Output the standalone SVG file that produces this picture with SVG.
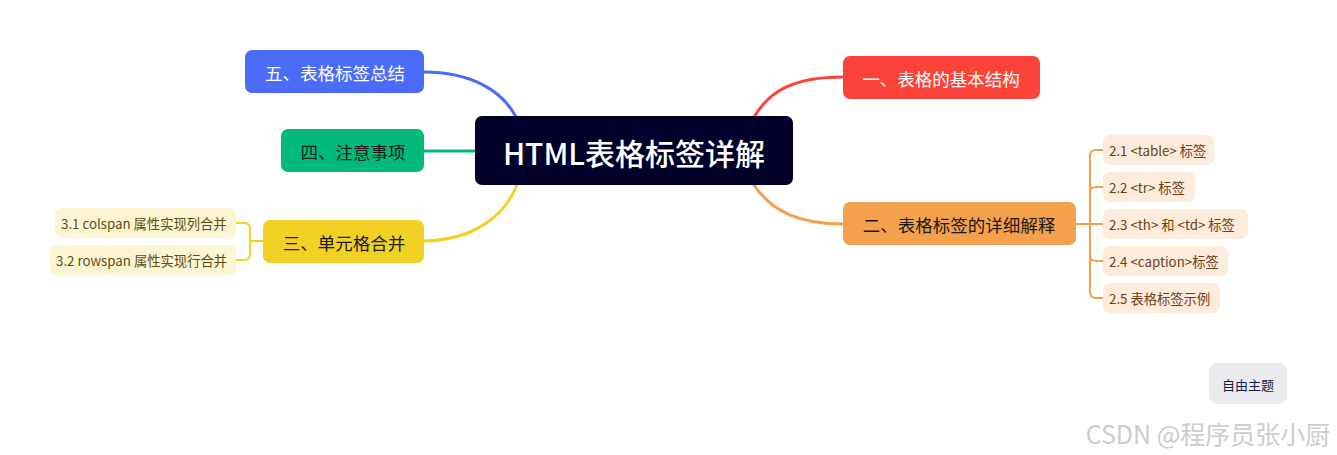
<svg xmlns="http://www.w3.org/2000/svg" width="1337" height="455" viewBox="0 0 1337 455">
<style>
text{font-family:"Noto Sans CJK SC","Noto Sans",sans-serif;text-anchor:middle;dominant-baseline:central}
.l1{font-size:17.5px}
.l2{font-size:13.3px;text-anchor:start}
.c{fill:none;stroke-width:3;stroke-linecap:round}
.c2{fill:none;stroke-width:2}
</style>
<rect width="1337" height="455" fill="#ffffff"/>
<g id="connectors">
<path class="c" stroke="#4a6cf7" d="M424,72 C470,72 502,90 516,117"/>
<path class="c" stroke="#00b97a" d="M424,151 L476,151"/>
<path class="c" stroke="#f2d024" d="M424,241 C475,240 505,215 517,185"/>
<path class="c" stroke="#fb433a" d="M843,77 C795,77 770,90 754,117"/>
<path class="c" stroke="#f5a04c" d="M754,185 C772,212 800,224 843,224"/>
<path class="c2" stroke="#f5a04c" d="M1076,224 H1103 M1103,150 H1096 Q1090,150 1090,156 V292 Q1090,298 1096,298 H1103 M1103,187 H1096 Q1090,187 1090,193 M1103,261 H1096 Q1090,261 1090,255"/>
<path class="c2" stroke="#f2d024" d="M263,241 H250 M236,223 H244 Q250,223 250,229 V254 Q250,260 244,260 H236"/>
</g>
<g id="root">
<rect x="475" y="116" width="318" height="69" rx="7" fill="#00002a"/>
<text x="634" y="152" fill="#ffffff" font-size="30" font-weight="500">HTML表格标签详解</text>
</g>
<g id="n5">
<rect x="245" y="50" width="179" height="43" rx="7" fill="#4a6cf7"/>
<text class="l1" x="335" y="72" fill="#ffffff">五、表格标签总结</text>
</g>
<g id="n4">
<rect x="281" y="129" width="143" height="43" rx="7" fill="#00b97a"/>
<text class="l1" x="353" y="151" fill="#1a1a1a">四、注意事项</text>
</g>
<g id="n3">
<rect x="263" y="220" width="161" height="43" rx="7" fill="#f2d024"/>
<text class="l1" x="344" y="242" fill="#1a1a1a">三、单元格合并</text>
</g>
<g id="n31">
<rect x="55" y="208" width="181" height="30" rx="7" fill="#fcf5d2"/>
<text class="l2" x="61" y="223" fill="#5c4d14">3.1 colspan 属性实现列合并</text>
</g>
<g id="n32">
<rect x="50" y="245" width="186" height="30" rx="7" fill="#fcf5d2"/>
<text class="l2" x="56" y="260" fill="#5c4d14">3.2 rowspan 属性实现行合并</text>
</g>
<g id="n1">
<rect x="843" y="56" width="197" height="43" rx="7" fill="#fb433a"/>
<text class="l1" x="941" y="78" fill="#ffffff">一、表格的基本结构</text>
</g>
<g id="n2">
<rect x="843" y="202" width="233" height="43" rx="7" fill="#f5a04c"/>
<text class="l1" x="959" y="224" fill="#1a1a1a">二、表格标签的详细解释</text>
</g>
<g id="n21">
<rect x="1103" y="135" width="111" height="30" rx="7" fill="#fdebdc"/>
<text class="l2" x="1109" y="150" fill="#6b3f14">2.1 &lt;table&gt; 标签</text>
</g>
<g id="n22">
<rect x="1103" y="172" width="92" height="30" rx="7" fill="#fdebdc"/>
<text class="l2" x="1109" y="187" fill="#6b3f14">2.2 &lt;tr&gt; 标签</text>
</g>
<g id="n23">
<rect x="1103" y="209" width="145" height="30" rx="7" fill="#fdebdc"/>
<text class="l2" x="1109" y="224" fill="#6b3f14">2.3 &lt;th&gt; 和 &lt;td&gt; 标签</text>
</g>
<g id="n24">
<rect x="1103" y="246" width="125" height="30" rx="7" fill="#fdebdc"/>
<text class="l2" x="1109" y="261" fill="#6b3f14">2.4 &lt;caption&gt;标签</text>
</g>
<g id="n25">
<rect x="1103" y="283" width="117" height="30" rx="7" fill="#fdebdc"/>
<text class="l2" x="1109" y="298" fill="#6b3f14">2.5 表格标签示例</text>
</g>
<g id="free">
<rect x="1209" y="363" width="78" height="41" rx="8" fill="#ebebef"/>
<text x="1248" y="384" font-size="13" fill="#1a1a40">自由主题</text>
</g>
<text x="1208" y="433" font-size="25" fill="#cccccc" font-family="'Liberation Sans','Noto Sans CJK SC',sans-serif">CSDN @程序员张小厨</text>
</svg>
